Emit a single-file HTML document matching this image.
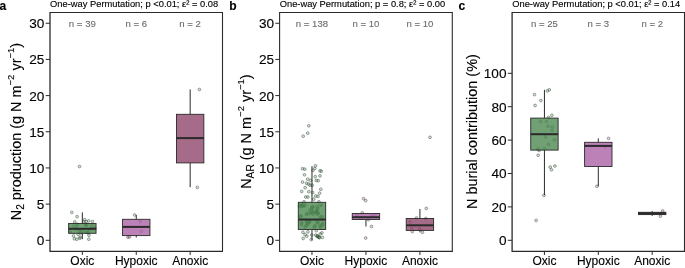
<!DOCTYPE html>
<html><head><meta charset="utf-8"><title>fig</title>
<style>
html,body{margin:0;padding:0;background:#fff;}
body{width:685px;height:268px;overflow:hidden;font-family:"Liberation Sans",sans-serif;}
svg{display:block;font-family:"Liberation Sans",sans-serif;}
text{filter:grayscale(1);stroke:#000;stroke-width:0.13px;}
text.n{stroke:#6a6a6a;stroke-width:0.1px;}
</style></head><body>
<svg width="685" height="268" viewBox="0 0 685 268">
<rect x="0" y="0" width="685" height="268" fill="#fff"/>
<text x="-0.4" y="10.4" font-size="12" font-weight="bold" fill="#000">a</text>
<text x="229.3" y="10.4" font-size="12" font-weight="bold" fill="#000">b</text>
<text x="458.4" y="10.4" font-size="12" font-weight="bold" fill="#000">c</text>
<text x="50.10" y="6.9" font-size="9.33" fill="#000">One-way Permutation; p &lt;0.01; ε² = 0.08</text>
<text x="82.34" y="26.7" class="n" font-size="9.6" fill="#6a6a6a" text-anchor="middle">n = 39</text>
<text x="136.25" y="26.7" class="n" font-size="9.6" fill="#6a6a6a" text-anchor="middle">n = 6</text>
<text x="190.16" y="26.7" class="n" font-size="9.6" fill="#6a6a6a" text-anchor="middle">n = 2</text>
<line x1="45.70" y1="240.30" x2="50.00" y2="240.30" stroke="#2a2a2a" stroke-width="1"/>
<text x="44.40" y="245.20" font-size="13.6" fill="#000" text-anchor="end">0</text>
<line x1="45.70" y1="204.12" x2="50.00" y2="204.12" stroke="#2a2a2a" stroke-width="1"/>
<text x="44.40" y="209.03" font-size="13.6" fill="#000" text-anchor="end">5</text>
<line x1="45.70" y1="167.95" x2="50.00" y2="167.95" stroke="#2a2a2a" stroke-width="1"/>
<text x="44.40" y="172.85" font-size="13.6" fill="#000" text-anchor="end">10</text>
<line x1="45.70" y1="131.78" x2="50.00" y2="131.78" stroke="#2a2a2a" stroke-width="1"/>
<text x="44.40" y="136.68" font-size="13.6" fill="#000" text-anchor="end">15</text>
<line x1="45.70" y1="95.60" x2="50.00" y2="95.60" stroke="#2a2a2a" stroke-width="1"/>
<text x="44.40" y="100.50" font-size="13.6" fill="#000" text-anchor="end">20</text>
<line x1="45.70" y1="59.43" x2="50.00" y2="59.43" stroke="#2a2a2a" stroke-width="1"/>
<text x="44.40" y="64.33" font-size="13.6" fill="#000" text-anchor="end">25</text>
<line x1="45.70" y1="23.25" x2="50.00" y2="23.25" stroke="#2a2a2a" stroke-width="1"/>
<text x="44.40" y="28.15" font-size="13.6" fill="#000" text-anchor="end">30</text>
<line x1="82.34" y1="251.35" x2="82.34" y2="254.95" stroke="#2a2a2a" stroke-width="1"/>
<text x="82.34" y="265.1" font-size="12" fill="#000" text-anchor="middle">Oxic</text>
<line x1="136.25" y1="251.35" x2="136.25" y2="254.95" stroke="#2a2a2a" stroke-width="1"/>
<text x="136.25" y="265.1" font-size="12" fill="#000" text-anchor="middle">Hypoxic</text>
<line x1="190.16" y1="251.35" x2="190.16" y2="254.95" stroke="#2a2a2a" stroke-width="1"/>
<text x="190.16" y="265.1" font-size="12" fill="#000" text-anchor="middle">Anoxic</text>
<text transform="translate(21.4,131.6) rotate(-90)" font-size="14.45" text-anchor="middle" fill="#000">N<tspan font-size="10.2" dy="2.9">2</tspan><tspan dy="-2.9"> production (g N m</tspan><tspan font-size="9.5" dy="-7">−2</tspan><tspan dy="7"> yr</tspan><tspan font-size="9.5" dy="-7">−1</tspan><tspan dy="7">)</tspan></text>
<circle cx="71.8" cy="212.4" r="1.4" fill="#2e8b3e" fill-opacity="0.25" stroke="#3a463a" stroke-opacity="0.6" stroke-width="0.75"/><circle cx="77.1" cy="216.6" r="1.4" fill="#2e8b3e" fill-opacity="0.25" stroke="#3a463a" stroke-opacity="0.6" stroke-width="0.75"/><circle cx="84.6" cy="219.6" r="1.4" fill="#2e8b3e" fill-opacity="0.25" stroke="#3a463a" stroke-opacity="0.6" stroke-width="0.75"/><circle cx="88.6" cy="220.9" r="1.4" fill="#2e8b3e" fill-opacity="0.25" stroke="#3a463a" stroke-opacity="0.6" stroke-width="0.75"/><circle cx="92.5" cy="221.6" r="1.4" fill="#2e8b3e" fill-opacity="0.25" stroke="#3a463a" stroke-opacity="0.6" stroke-width="0.75"/><circle cx="74.8" cy="222.0" r="1.4" fill="#2e8b3e" fill-opacity="0.25" stroke="#3a463a" stroke-opacity="0.6" stroke-width="0.75"/><circle cx="79.5" cy="166.5" r="1.4" fill="#2e8b3e" fill-opacity="0.25" stroke="#3a463a" stroke-opacity="0.6" stroke-width="0.75"/><circle cx="73.5" cy="235.9" r="1.4" fill="#2e8b3e" fill-opacity="0.25" stroke="#3a463a" stroke-opacity="0.6" stroke-width="0.75"/><circle cx="74.4" cy="238.8" r="1.4" fill="#2e8b3e" fill-opacity="0.25" stroke="#3a463a" stroke-opacity="0.6" stroke-width="0.75"/><circle cx="76.8" cy="239.2" r="1.4" fill="#2e8b3e" fill-opacity="0.25" stroke="#3a463a" stroke-opacity="0.6" stroke-width="0.75"/><circle cx="79.8" cy="238.3" r="1.4" fill="#2e8b3e" fill-opacity="0.25" stroke="#3a463a" stroke-opacity="0.6" stroke-width="0.75"/><circle cx="89.0" cy="235.3" r="1.4" fill="#2e8b3e" fill-opacity="0.25" stroke="#3a463a" stroke-opacity="0.6" stroke-width="0.75"/><circle cx="88.8" cy="239.2" r="1.4" fill="#2e8b3e" fill-opacity="0.25" stroke="#3a463a" stroke-opacity="0.6" stroke-width="0.75"/><circle cx="78.1" cy="234.3" r="1.4" fill="#2e8b3e" fill-opacity="0.25" stroke="#3a463a" stroke-opacity="0.6" stroke-width="0.75"/><circle cx="80.1" cy="237.1" r="1.4" fill="#2e8b3e" fill-opacity="0.25" stroke="#3a463a" stroke-opacity="0.6" stroke-width="0.75"/><circle cx="86.1" cy="221.6" r="1.4" fill="#2e8b3e" fill-opacity="0.25" stroke="#3a463a" stroke-opacity="0.6" stroke-width="0.75"/><circle cx="83.9" cy="221.9" r="1.4" fill="#2e8b3e" fill-opacity="0.25" stroke="#3a463a" stroke-opacity="0.6" stroke-width="0.75"/><circle cx="75.9" cy="229.2" r="1.4" fill="#2e8b3e" fill-opacity="0.25" stroke="#3a463a" stroke-opacity="0.6" stroke-width="0.75"/><circle cx="79.2" cy="229.7" r="1.4" fill="#2e8b3e" fill-opacity="0.25" stroke="#3a463a" stroke-opacity="0.6" stroke-width="0.75"/><circle cx="85.6" cy="224.6" r="1.4" fill="#2e8b3e" fill-opacity="0.25" stroke="#3a463a" stroke-opacity="0.6" stroke-width="0.75"/><circle cx="70.3" cy="232.0" r="1.4" fill="#2e8b3e" fill-opacity="0.25" stroke="#3a463a" stroke-opacity="0.6" stroke-width="0.75"/><circle cx="76.5" cy="226.2" r="1.4" fill="#2e8b3e" fill-opacity="0.25" stroke="#3a463a" stroke-opacity="0.6" stroke-width="0.75"/><circle cx="94.9" cy="228.5" r="1.4" fill="#2e8b3e" fill-opacity="0.25" stroke="#3a463a" stroke-opacity="0.6" stroke-width="0.75"/><circle cx="90.9" cy="228.5" r="1.4" fill="#2e8b3e" fill-opacity="0.25" stroke="#3a463a" stroke-opacity="0.6" stroke-width="0.75"/><circle cx="86.0" cy="225.4" r="1.4" fill="#2e8b3e" fill-opacity="0.25" stroke="#3a463a" stroke-opacity="0.6" stroke-width="0.75"/><circle cx="85.9" cy="232.2" r="1.4" fill="#2e8b3e" fill-opacity="0.25" stroke="#3a463a" stroke-opacity="0.6" stroke-width="0.75"/><circle cx="83.1" cy="231.0" r="1.4" fill="#2e8b3e" fill-opacity="0.25" stroke="#3a463a" stroke-opacity="0.6" stroke-width="0.75"/><circle cx="86.8" cy="224.6" r="1.4" fill="#2e8b3e" fill-opacity="0.25" stroke="#3a463a" stroke-opacity="0.6" stroke-width="0.75"/><circle cx="89.0" cy="229.6" r="1.4" fill="#2e8b3e" fill-opacity="0.25" stroke="#3a463a" stroke-opacity="0.6" stroke-width="0.75"/><circle cx="77.5" cy="224.3" r="1.4" fill="#2e8b3e" fill-opacity="0.25" stroke="#3a463a" stroke-opacity="0.6" stroke-width="0.75"/><circle cx="91.6" cy="228.5" r="1.4" fill="#2e8b3e" fill-opacity="0.25" stroke="#3a463a" stroke-opacity="0.6" stroke-width="0.75"/><circle cx="88.0" cy="232.3" r="1.4" fill="#2e8b3e" fill-opacity="0.25" stroke="#3a463a" stroke-opacity="0.6" stroke-width="0.75"/><circle cx="87.9" cy="232.8" r="1.4" fill="#2e8b3e" fill-opacity="0.25" stroke="#3a463a" stroke-opacity="0.6" stroke-width="0.75"/><circle cx="79.9" cy="231.6" r="1.4" fill="#2e8b3e" fill-opacity="0.25" stroke="#3a463a" stroke-opacity="0.6" stroke-width="0.75"/><circle cx="81.1" cy="232.9" r="1.4" fill="#2e8b3e" fill-opacity="0.25" stroke="#3a463a" stroke-opacity="0.6" stroke-width="0.75"/><circle cx="92.0" cy="224.9" r="1.4" fill="#2e8b3e" fill-opacity="0.25" stroke="#3a463a" stroke-opacity="0.6" stroke-width="0.75"/><circle cx="73.4" cy="226.1" r="1.4" fill="#2e8b3e" fill-opacity="0.25" stroke="#3a463a" stroke-opacity="0.6" stroke-width="0.75"/><circle cx="94.1" cy="228.1" r="1.4" fill="#2e8b3e" fill-opacity="0.25" stroke="#3a463a" stroke-opacity="0.6" stroke-width="0.75"/>
<line x1="82.34" y1="212.40" x2="82.34" y2="223.50" stroke="#2a2a2a" stroke-width="1"/><line x1="82.34" y1="233.30" x2="82.34" y2="239.20" stroke="#2a2a2a" stroke-width="1"/><rect x="68.64" y="223.50" width="27.40" height="9.80" fill="#4c8851" fill-opacity="0.8" stroke="#2a2a2a" stroke-width="0.9"/><line x1="68.64" y1="228.80" x2="96.04" y2="228.80" stroke="#2a2a2a" stroke-width="2.0"/>
<circle cx="134.6" cy="215.0" r="1.4" fill="#b040b0" fill-opacity="0.25" stroke="#444" stroke-opacity="0.6" stroke-width="0.75"/><circle cx="128.0" cy="237.2" r="1.4" fill="#b040b0" fill-opacity="0.25" stroke="#444" stroke-opacity="0.6" stroke-width="0.75"/><circle cx="129.4" cy="236.9" r="1.4" fill="#b040b0" fill-opacity="0.25" stroke="#444" stroke-opacity="0.6" stroke-width="0.75"/><circle cx="140.3" cy="221.5" r="1.4" fill="#b040b0" fill-opacity="0.25" stroke="#444" stroke-opacity="0.6" stroke-width="0.75"/><circle cx="141.3" cy="231.3" r="1.4" fill="#b040b0" fill-opacity="0.25" stroke="#444" stroke-opacity="0.6" stroke-width="0.75"/>
<line x1="136.25" y1="215.00" x2="136.25" y2="219.30" stroke="#2a2a2a" stroke-width="1"/><line x1="136.25" y1="235.60" x2="136.25" y2="237.50" stroke="#2a2a2a" stroke-width="1"/><rect x="122.55" y="219.30" width="27.40" height="16.30" fill="#ab63a6" fill-opacity="0.8" stroke="#2a2a2a" stroke-width="0.9"/><line x1="122.55" y1="226.90" x2="149.95" y2="226.90" stroke="#2a2a2a" stroke-width="2.0"/>
<circle cx="199.4" cy="89.5" r="1.4" fill="#a04070" fill-opacity="0.25" stroke="#444" stroke-opacity="0.6" stroke-width="0.75"/><circle cx="197.3" cy="187.4" r="1.4" fill="#a04070" fill-opacity="0.25" stroke="#444" stroke-opacity="0.6" stroke-width="0.75"/>
<line x1="190.16" y1="89.40" x2="190.16" y2="114.30" stroke="#2a2a2a" stroke-width="1"/><line x1="190.16" y1="162.90" x2="190.16" y2="187.20" stroke="#2a2a2a" stroke-width="1"/><rect x="176.46" y="114.30" width="27.40" height="48.60" fill="#8e466a" fill-opacity="0.8" stroke="#2a2a2a" stroke-width="0.9"/><line x1="176.46" y1="138.10" x2="203.86" y2="138.10" stroke="#2a2a2a" stroke-width="2.0"/>
<text x="279.70" y="6.9" font-size="9.33" fill="#000">One-way Permutation; p = 0.8; ε² = 0.00</text>
<text x="311.98" y="26.7" class="n" font-size="9.6" fill="#6a6a6a" text-anchor="middle">n = 138</text>
<text x="365.95" y="26.7" class="n" font-size="9.6" fill="#6a6a6a" text-anchor="middle">n = 10</text>
<text x="419.92" y="26.7" class="n" font-size="9.6" fill="#6a6a6a" text-anchor="middle">n = 10</text>
<line x1="275.30" y1="240.30" x2="279.60" y2="240.30" stroke="#2a2a2a" stroke-width="1"/>
<text x="274.00" y="245.20" font-size="13.6" fill="#000" text-anchor="end">0</text>
<line x1="275.30" y1="204.12" x2="279.60" y2="204.12" stroke="#2a2a2a" stroke-width="1"/>
<text x="274.00" y="209.03" font-size="13.6" fill="#000" text-anchor="end">5</text>
<line x1="275.30" y1="167.95" x2="279.60" y2="167.95" stroke="#2a2a2a" stroke-width="1"/>
<text x="274.00" y="172.85" font-size="13.6" fill="#000" text-anchor="end">10</text>
<line x1="275.30" y1="131.78" x2="279.60" y2="131.78" stroke="#2a2a2a" stroke-width="1"/>
<text x="274.00" y="136.68" font-size="13.6" fill="#000" text-anchor="end">15</text>
<line x1="275.30" y1="95.60" x2="279.60" y2="95.60" stroke="#2a2a2a" stroke-width="1"/>
<text x="274.00" y="100.50" font-size="13.6" fill="#000" text-anchor="end">20</text>
<line x1="275.30" y1="59.43" x2="279.60" y2="59.43" stroke="#2a2a2a" stroke-width="1"/>
<text x="274.00" y="64.33" font-size="13.6" fill="#000" text-anchor="end">25</text>
<line x1="275.30" y1="23.25" x2="279.60" y2="23.25" stroke="#2a2a2a" stroke-width="1"/>
<text x="274.00" y="28.15" font-size="13.6" fill="#000" text-anchor="end">30</text>
<line x1="311.98" y1="251.35" x2="311.98" y2="254.95" stroke="#2a2a2a" stroke-width="1"/>
<text x="311.98" y="265.1" font-size="12" fill="#000" text-anchor="middle">Oxic</text>
<line x1="365.95" y1="251.35" x2="365.95" y2="254.95" stroke="#2a2a2a" stroke-width="1"/>
<text x="365.95" y="265.1" font-size="12" fill="#000" text-anchor="middle">Hypoxic</text>
<line x1="419.92" y1="251.35" x2="419.92" y2="254.95" stroke="#2a2a2a" stroke-width="1"/>
<text x="419.92" y="265.1" font-size="12" fill="#000" text-anchor="middle">Anoxic</text>
<text transform="translate(251.4,131.6) rotate(-90)" font-size="14.45" text-anchor="middle" fill="#000">N<tspan font-size="10.2" dy="2.9">AR</tspan><tspan dy="-2.9"> (g N m</tspan><tspan font-size="9.5" dy="-7">−2</tspan><tspan dy="7"> yr</tspan><tspan font-size="9.5" dy="-7">−1</tspan><tspan dy="7">)</tspan></text>
<circle cx="308.8" cy="125.8" r="1.4" fill="#2e8b3e" fill-opacity="0.25" stroke="#3a463a" stroke-opacity="0.6" stroke-width="0.75"/><circle cx="307.7" cy="133.2" r="1.4" fill="#2e8b3e" fill-opacity="0.25" stroke="#3a463a" stroke-opacity="0.6" stroke-width="0.75"/><circle cx="303.2" cy="136.2" r="1.4" fill="#2e8b3e" fill-opacity="0.25" stroke="#3a463a" stroke-opacity="0.6" stroke-width="0.75"/><circle cx="302.5" cy="168.7" r="1.4" fill="#2e8b3e" fill-opacity="0.25" stroke="#3a463a" stroke-opacity="0.6" stroke-width="0.75"/><circle cx="304.8" cy="169.2" r="1.4" fill="#2e8b3e" fill-opacity="0.25" stroke="#3a463a" stroke-opacity="0.6" stroke-width="0.75"/><circle cx="315.5" cy="165.8" r="1.4" fill="#2e8b3e" fill-opacity="0.25" stroke="#3a463a" stroke-opacity="0.6" stroke-width="0.75"/><circle cx="314.8" cy="168.4" r="1.4" fill="#2e8b3e" fill-opacity="0.25" stroke="#3a463a" stroke-opacity="0.6" stroke-width="0.75"/><circle cx="312.9" cy="170.3" r="1.4" fill="#2e8b3e" fill-opacity="0.25" stroke="#3a463a" stroke-opacity="0.6" stroke-width="0.75"/><circle cx="320.0" cy="170.8" r="1.4" fill="#2e8b3e" fill-opacity="0.25" stroke="#3a463a" stroke-opacity="0.6" stroke-width="0.75"/><circle cx="321.3" cy="171.2" r="1.4" fill="#2e8b3e" fill-opacity="0.25" stroke="#3a463a" stroke-opacity="0.6" stroke-width="0.75"/><circle cx="304.5" cy="174.8" r="1.4" fill="#2e8b3e" fill-opacity="0.25" stroke="#3a463a" stroke-opacity="0.6" stroke-width="0.75"/><circle cx="315.2" cy="176.6" r="1.4" fill="#2e8b3e" fill-opacity="0.25" stroke="#3a463a" stroke-opacity="0.6" stroke-width="0.75"/><circle cx="320.0" cy="175.9" r="1.4" fill="#2e8b3e" fill-opacity="0.25" stroke="#3a463a" stroke-opacity="0.6" stroke-width="0.75"/><circle cx="307.7" cy="179.2" r="1.4" fill="#2e8b3e" fill-opacity="0.25" stroke="#3a463a" stroke-opacity="0.6" stroke-width="0.75"/><circle cx="310.7" cy="180.4" r="1.4" fill="#2e8b3e" fill-opacity="0.25" stroke="#3a463a" stroke-opacity="0.6" stroke-width="0.75"/><circle cx="316.3" cy="180.4" r="1.4" fill="#2e8b3e" fill-opacity="0.25" stroke="#3a463a" stroke-opacity="0.6" stroke-width="0.75"/><circle cx="318.2" cy="180.7" r="1.4" fill="#2e8b3e" fill-opacity="0.25" stroke="#3a463a" stroke-opacity="0.6" stroke-width="0.75"/><circle cx="302.5" cy="182.1" r="1.4" fill="#2e8b3e" fill-opacity="0.25" stroke="#3a463a" stroke-opacity="0.6" stroke-width="0.75"/><circle cx="306.6" cy="183.3" r="1.4" fill="#2e8b3e" fill-opacity="0.25" stroke="#3a463a" stroke-opacity="0.6" stroke-width="0.75"/><circle cx="308.5" cy="184.0" r="1.4" fill="#2e8b3e" fill-opacity="0.25" stroke="#3a463a" stroke-opacity="0.6" stroke-width="0.75"/><circle cx="310.1" cy="185.2" r="1.4" fill="#2e8b3e" fill-opacity="0.25" stroke="#3a463a" stroke-opacity="0.6" stroke-width="0.75"/><circle cx="312.1" cy="185.2" r="1.4" fill="#2e8b3e" fill-opacity="0.25" stroke="#3a463a" stroke-opacity="0.6" stroke-width="0.75"/><circle cx="305.1" cy="187.7" r="1.4" fill="#2e8b3e" fill-opacity="0.25" stroke="#3a463a" stroke-opacity="0.6" stroke-width="0.75"/><circle cx="320.8" cy="189.3" r="1.4" fill="#2e8b3e" fill-opacity="0.25" stroke="#3a463a" stroke-opacity="0.6" stroke-width="0.75"/><circle cx="301.7" cy="191.4" r="1.4" fill="#2e8b3e" fill-opacity="0.25" stroke="#3a463a" stroke-opacity="0.6" stroke-width="0.75"/><circle cx="308.8" cy="191.7" r="1.4" fill="#2e8b3e" fill-opacity="0.25" stroke="#3a463a" stroke-opacity="0.6" stroke-width="0.75"/><circle cx="312.6" cy="192.5" r="1.4" fill="#2e8b3e" fill-opacity="0.25" stroke="#3a463a" stroke-opacity="0.6" stroke-width="0.75"/><circle cx="319.6" cy="193.2" r="1.4" fill="#2e8b3e" fill-opacity="0.25" stroke="#3a463a" stroke-opacity="0.6" stroke-width="0.75"/><circle cx="305.7" cy="197.0" r="1.4" fill="#2e8b3e" fill-opacity="0.25" stroke="#3a463a" stroke-opacity="0.6" stroke-width="0.75"/><circle cx="307.9" cy="197.0" r="1.4" fill="#2e8b3e" fill-opacity="0.25" stroke="#3a463a" stroke-opacity="0.6" stroke-width="0.75"/><circle cx="315.7" cy="196.0" r="1.4" fill="#2e8b3e" fill-opacity="0.25" stroke="#3a463a" stroke-opacity="0.6" stroke-width="0.75"/><circle cx="318.0" cy="196.4" r="1.4" fill="#2e8b3e" fill-opacity="0.25" stroke="#3a463a" stroke-opacity="0.6" stroke-width="0.75"/><circle cx="313.7" cy="199.2" r="1.4" fill="#2e8b3e" fill-opacity="0.25" stroke="#3a463a" stroke-opacity="0.6" stroke-width="0.75"/><circle cx="304.0" cy="201.8" r="1.4" fill="#2e8b3e" fill-opacity="0.25" stroke="#3a463a" stroke-opacity="0.6" stroke-width="0.75"/><circle cx="318.9" cy="201.8" r="1.4" fill="#2e8b3e" fill-opacity="0.25" stroke="#3a463a" stroke-opacity="0.6" stroke-width="0.75"/><circle cx="302.9" cy="232.3" r="1.4" fill="#2e8b3e" fill-opacity="0.25" stroke="#3a463a" stroke-opacity="0.6" stroke-width="0.75"/><circle cx="305.1" cy="234.6" r="1.4" fill="#2e8b3e" fill-opacity="0.25" stroke="#3a463a" stroke-opacity="0.6" stroke-width="0.75"/><circle cx="306.8" cy="236.2" r="1.4" fill="#2e8b3e" fill-opacity="0.25" stroke="#3a463a" stroke-opacity="0.6" stroke-width="0.75"/><circle cx="303.2" cy="238.5" r="1.4" fill="#2e8b3e" fill-opacity="0.25" stroke="#3a463a" stroke-opacity="0.6" stroke-width="0.75"/><circle cx="311.2" cy="239.6" r="1.4" fill="#2e8b3e" fill-opacity="0.25" stroke="#3a463a" stroke-opacity="0.6" stroke-width="0.75"/><circle cx="311.8" cy="235.1" r="1.4" fill="#2e8b3e" fill-opacity="0.25" stroke="#3a463a" stroke-opacity="0.6" stroke-width="0.75"/><circle cx="315.7" cy="235.1" r="1.4" fill="#2e8b3e" fill-opacity="0.25" stroke="#3a463a" stroke-opacity="0.6" stroke-width="0.75"/><circle cx="317.4" cy="236.2" r="1.4" fill="#2e8b3e" fill-opacity="0.25" stroke="#3a463a" stroke-opacity="0.6" stroke-width="0.75"/><circle cx="317.6" cy="236.5" r="1.4" fill="#2e8b3e" fill-opacity="0.25" stroke="#3a463a" stroke-opacity="0.6" stroke-width="0.75"/><circle cx="317.2" cy="236.0" r="1.4" fill="#2e8b3e" fill-opacity="0.25" stroke="#3a463a" stroke-opacity="0.6" stroke-width="0.75"/><circle cx="319.1" cy="237.4" r="1.4" fill="#2e8b3e" fill-opacity="0.25" stroke="#3a463a" stroke-opacity="0.6" stroke-width="0.75"/><circle cx="318.9" cy="237.1" r="1.4" fill="#2e8b3e" fill-opacity="0.25" stroke="#3a463a" stroke-opacity="0.6" stroke-width="0.75"/><circle cx="319.3" cy="237.7" r="1.4" fill="#2e8b3e" fill-opacity="0.25" stroke="#3a463a" stroke-opacity="0.6" stroke-width="0.75"/><circle cx="322.4" cy="237.4" r="1.4" fill="#2e8b3e" fill-opacity="0.25" stroke="#3a463a" stroke-opacity="0.6" stroke-width="0.75"/><circle cx="321.9" cy="232.9" r="1.4" fill="#2e8b3e" fill-opacity="0.25" stroke="#3a463a" stroke-opacity="0.6" stroke-width="0.75"/><circle cx="320.2" cy="234.0" r="1.4" fill="#2e8b3e" fill-opacity="0.25" stroke="#3a463a" stroke-opacity="0.6" stroke-width="0.75"/><circle cx="307.9" cy="231.8" r="1.4" fill="#2e8b3e" fill-opacity="0.25" stroke="#3a463a" stroke-opacity="0.6" stroke-width="0.75"/><circle cx="316.3" cy="230.7" r="1.4" fill="#2e8b3e" fill-opacity="0.25" stroke="#3a463a" stroke-opacity="0.6" stroke-width="0.75"/><circle cx="301.8" cy="205.1" r="1.4" fill="#2e8b3e" fill-opacity="0.25" stroke="#3a463a" stroke-opacity="0.6" stroke-width="0.75"/><circle cx="301.4" cy="205.6" r="1.4" fill="#2e8b3e" fill-opacity="0.25" stroke="#3a463a" stroke-opacity="0.6" stroke-width="0.75"/><circle cx="301.6" cy="206.6" r="1.4" fill="#2e8b3e" fill-opacity="0.25" stroke="#3a463a" stroke-opacity="0.6" stroke-width="0.75"/><circle cx="299.5" cy="206.3" r="1.4" fill="#2e8b3e" fill-opacity="0.25" stroke="#3a463a" stroke-opacity="0.6" stroke-width="0.75"/><circle cx="300.3" cy="205.4" r="1.4" fill="#2e8b3e" fill-opacity="0.25" stroke="#3a463a" stroke-opacity="0.6" stroke-width="0.75"/><circle cx="302.9" cy="205.1" r="1.4" fill="#2e8b3e" fill-opacity="0.25" stroke="#3a463a" stroke-opacity="0.6" stroke-width="0.75"/><circle cx="303.1" cy="206.2" r="1.4" fill="#2e8b3e" fill-opacity="0.25" stroke="#3a463a" stroke-opacity="0.6" stroke-width="0.75"/><circle cx="304.9" cy="204.9" r="1.4" fill="#2e8b3e" fill-opacity="0.25" stroke="#3a463a" stroke-opacity="0.6" stroke-width="0.75"/><circle cx="304.4" cy="206.0" r="1.4" fill="#2e8b3e" fill-opacity="0.25" stroke="#3a463a" stroke-opacity="0.6" stroke-width="0.75"/><circle cx="312.3" cy="207.2" r="1.4" fill="#2e8b3e" fill-opacity="0.25" stroke="#3a463a" stroke-opacity="0.6" stroke-width="0.75"/><circle cx="313.0" cy="206.8" r="1.4" fill="#2e8b3e" fill-opacity="0.25" stroke="#3a463a" stroke-opacity="0.6" stroke-width="0.75"/><circle cx="312.3" cy="208.1" r="1.4" fill="#2e8b3e" fill-opacity="0.25" stroke="#3a463a" stroke-opacity="0.6" stroke-width="0.75"/><circle cx="311.8" cy="207.3" r="1.4" fill="#2e8b3e" fill-opacity="0.25" stroke="#3a463a" stroke-opacity="0.6" stroke-width="0.75"/><circle cx="311.5" cy="210.4" r="1.4" fill="#2e8b3e" fill-opacity="0.25" stroke="#3a463a" stroke-opacity="0.6" stroke-width="0.75"/><circle cx="309.7" cy="209.8" r="1.4" fill="#2e8b3e" fill-opacity="0.25" stroke="#3a463a" stroke-opacity="0.6" stroke-width="0.75"/><circle cx="317.0" cy="210.4" r="1.4" fill="#2e8b3e" fill-opacity="0.25" stroke="#3a463a" stroke-opacity="0.6" stroke-width="0.75"/><circle cx="317.6" cy="208.7" r="1.4" fill="#2e8b3e" fill-opacity="0.25" stroke="#3a463a" stroke-opacity="0.6" stroke-width="0.75"/><circle cx="317.2" cy="208.7" r="1.4" fill="#2e8b3e" fill-opacity="0.25" stroke="#3a463a" stroke-opacity="0.6" stroke-width="0.75"/><circle cx="319.4" cy="205.9" r="1.4" fill="#2e8b3e" fill-opacity="0.25" stroke="#3a463a" stroke-opacity="0.6" stroke-width="0.75"/><circle cx="321.5" cy="205.0" r="1.4" fill="#2e8b3e" fill-opacity="0.25" stroke="#3a463a" stroke-opacity="0.6" stroke-width="0.75"/><circle cx="316.4" cy="206.6" r="1.4" fill="#2e8b3e" fill-opacity="0.25" stroke="#3a463a" stroke-opacity="0.6" stroke-width="0.75"/><circle cx="316.7" cy="212.0" r="1.4" fill="#2e8b3e" fill-opacity="0.25" stroke="#3a463a" stroke-opacity="0.6" stroke-width="0.75"/><circle cx="316.6" cy="211.6" r="1.4" fill="#2e8b3e" fill-opacity="0.25" stroke="#3a463a" stroke-opacity="0.6" stroke-width="0.75"/><circle cx="317.1" cy="212.6" r="1.4" fill="#2e8b3e" fill-opacity="0.25" stroke="#3a463a" stroke-opacity="0.6" stroke-width="0.75"/><circle cx="313.6" cy="212.0" r="1.4" fill="#2e8b3e" fill-opacity="0.25" stroke="#3a463a" stroke-opacity="0.6" stroke-width="0.75"/><circle cx="315.7" cy="212.8" r="1.4" fill="#2e8b3e" fill-opacity="0.25" stroke="#3a463a" stroke-opacity="0.6" stroke-width="0.75"/><circle cx="313.1" cy="214.4" r="1.4" fill="#2e8b3e" fill-opacity="0.25" stroke="#3a463a" stroke-opacity="0.6" stroke-width="0.75"/><circle cx="312.5" cy="212.4" r="1.4" fill="#2e8b3e" fill-opacity="0.25" stroke="#3a463a" stroke-opacity="0.6" stroke-width="0.75"/><circle cx="310.7" cy="213.2" r="1.4" fill="#2e8b3e" fill-opacity="0.25" stroke="#3a463a" stroke-opacity="0.6" stroke-width="0.75"/><circle cx="311.1" cy="211.9" r="1.4" fill="#2e8b3e" fill-opacity="0.25" stroke="#3a463a" stroke-opacity="0.6" stroke-width="0.75"/><circle cx="306.7" cy="213.5" r="1.4" fill="#2e8b3e" fill-opacity="0.25" stroke="#3a463a" stroke-opacity="0.6" stroke-width="0.75"/><circle cx="308.9" cy="213.6" r="1.4" fill="#2e8b3e" fill-opacity="0.25" stroke="#3a463a" stroke-opacity="0.6" stroke-width="0.75"/><circle cx="306.6" cy="214.6" r="1.4" fill="#2e8b3e" fill-opacity="0.25" stroke="#3a463a" stroke-opacity="0.6" stroke-width="0.75"/><circle cx="317.5" cy="214.2" r="1.4" fill="#2e8b3e" fill-opacity="0.25" stroke="#3a463a" stroke-opacity="0.6" stroke-width="0.75"/><circle cx="318.5" cy="213.2" r="1.4" fill="#2e8b3e" fill-opacity="0.25" stroke="#3a463a" stroke-opacity="0.6" stroke-width="0.75"/><circle cx="317.3" cy="213.4" r="1.4" fill="#2e8b3e" fill-opacity="0.25" stroke="#3a463a" stroke-opacity="0.6" stroke-width="0.75"/><circle cx="320.3" cy="217.4" r="1.4" fill="#2e8b3e" fill-opacity="0.25" stroke="#3a463a" stroke-opacity="0.6" stroke-width="0.75"/><circle cx="322.5" cy="217.0" r="1.4" fill="#2e8b3e" fill-opacity="0.25" stroke="#3a463a" stroke-opacity="0.6" stroke-width="0.75"/><circle cx="321.1" cy="216.6" r="1.4" fill="#2e8b3e" fill-opacity="0.25" stroke="#3a463a" stroke-opacity="0.6" stroke-width="0.75"/><circle cx="300.5" cy="216.6" r="1.4" fill="#2e8b3e" fill-opacity="0.25" stroke="#3a463a" stroke-opacity="0.6" stroke-width="0.75"/><circle cx="300.8" cy="216.5" r="1.4" fill="#2e8b3e" fill-opacity="0.25" stroke="#3a463a" stroke-opacity="0.6" stroke-width="0.75"/><circle cx="300.8" cy="215.9" r="1.4" fill="#2e8b3e" fill-opacity="0.25" stroke="#3a463a" stroke-opacity="0.6" stroke-width="0.75"/><circle cx="307.1" cy="221.8" r="1.4" fill="#2e8b3e" fill-opacity="0.25" stroke="#3a463a" stroke-opacity="0.6" stroke-width="0.75"/><circle cx="305.8" cy="219.7" r="1.4" fill="#2e8b3e" fill-opacity="0.25" stroke="#3a463a" stroke-opacity="0.6" stroke-width="0.75"/><circle cx="306.8" cy="222.8" r="1.4" fill="#2e8b3e" fill-opacity="0.25" stroke="#3a463a" stroke-opacity="0.6" stroke-width="0.75"/><circle cx="309.4" cy="220.9" r="1.4" fill="#2e8b3e" fill-opacity="0.25" stroke="#3a463a" stroke-opacity="0.6" stroke-width="0.75"/><circle cx="309.6" cy="221.9" r="1.4" fill="#2e8b3e" fill-opacity="0.25" stroke="#3a463a" stroke-opacity="0.6" stroke-width="0.75"/><circle cx="309.3" cy="222.2" r="1.4" fill="#2e8b3e" fill-opacity="0.25" stroke="#3a463a" stroke-opacity="0.6" stroke-width="0.75"/><circle cx="317.7" cy="223.2" r="1.4" fill="#2e8b3e" fill-opacity="0.25" stroke="#3a463a" stroke-opacity="0.6" stroke-width="0.75"/><circle cx="318.0" cy="222.2" r="1.4" fill="#2e8b3e" fill-opacity="0.25" stroke="#3a463a" stroke-opacity="0.6" stroke-width="0.75"/><circle cx="316.7" cy="221.8" r="1.4" fill="#2e8b3e" fill-opacity="0.25" stroke="#3a463a" stroke-opacity="0.6" stroke-width="0.75"/><circle cx="320.0" cy="226.9" r="1.4" fill="#2e8b3e" fill-opacity="0.25" stroke="#3a463a" stroke-opacity="0.6" stroke-width="0.75"/><circle cx="320.4" cy="225.7" r="1.4" fill="#2e8b3e" fill-opacity="0.25" stroke="#3a463a" stroke-opacity="0.6" stroke-width="0.75"/><circle cx="320.6" cy="227.2" r="1.4" fill="#2e8b3e" fill-opacity="0.25" stroke="#3a463a" stroke-opacity="0.6" stroke-width="0.75"/><circle cx="314.5" cy="226.4" r="1.4" fill="#2e8b3e" fill-opacity="0.25" stroke="#3a463a" stroke-opacity="0.6" stroke-width="0.75"/><circle cx="314.2" cy="227.5" r="1.4" fill="#2e8b3e" fill-opacity="0.25" stroke="#3a463a" stroke-opacity="0.6" stroke-width="0.75"/><circle cx="315.1" cy="226.0" r="1.4" fill="#2e8b3e" fill-opacity="0.25" stroke="#3a463a" stroke-opacity="0.6" stroke-width="0.75"/><circle cx="306.0" cy="225.9" r="1.4" fill="#2e8b3e" fill-opacity="0.25" stroke="#3a463a" stroke-opacity="0.6" stroke-width="0.75"/><circle cx="305.0" cy="227.4" r="1.4" fill="#2e8b3e" fill-opacity="0.25" stroke="#3a463a" stroke-opacity="0.6" stroke-width="0.75"/><circle cx="306.4" cy="225.6" r="1.4" fill="#2e8b3e" fill-opacity="0.25" stroke="#3a463a" stroke-opacity="0.6" stroke-width="0.75"/><circle cx="308.0" cy="224.5" r="1.4" fill="#2e8b3e" fill-opacity="0.25" stroke="#3a463a" stroke-opacity="0.6" stroke-width="0.75"/><circle cx="307.3" cy="223.9" r="1.4" fill="#2e8b3e" fill-opacity="0.25" stroke="#3a463a" stroke-opacity="0.6" stroke-width="0.75"/><circle cx="308.5" cy="222.4" r="1.4" fill="#2e8b3e" fill-opacity="0.25" stroke="#3a463a" stroke-opacity="0.6" stroke-width="0.75"/><circle cx="301.5" cy="224.7" r="1.4" fill="#2e8b3e" fill-opacity="0.25" stroke="#3a463a" stroke-opacity="0.6" stroke-width="0.75"/><circle cx="301.7" cy="222.8" r="1.4" fill="#2e8b3e" fill-opacity="0.25" stroke="#3a463a" stroke-opacity="0.6" stroke-width="0.75"/><circle cx="301.5" cy="223.2" r="1.4" fill="#2e8b3e" fill-opacity="0.25" stroke="#3a463a" stroke-opacity="0.6" stroke-width="0.75"/><circle cx="322.9" cy="224.5" r="1.4" fill="#2e8b3e" fill-opacity="0.25" stroke="#3a463a" stroke-opacity="0.6" stroke-width="0.75"/><circle cx="322.6" cy="223.3" r="1.4" fill="#2e8b3e" fill-opacity="0.25" stroke="#3a463a" stroke-opacity="0.6" stroke-width="0.75"/><circle cx="321.9" cy="224.8" r="1.4" fill="#2e8b3e" fill-opacity="0.25" stroke="#3a463a" stroke-opacity="0.6" stroke-width="0.75"/>
<line x1="311.98" y1="166.20" x2="311.98" y2="202.30" stroke="#2a2a2a" stroke-width="1"/><line x1="311.98" y1="229.50" x2="311.98" y2="240.20" stroke="#2a2a2a" stroke-width="1"/><rect x="298.28" y="202.30" width="27.40" height="27.20" fill="#4c8851" fill-opacity="0.8" stroke="#2a2a2a" stroke-width="0.9"/><line x1="298.28" y1="219.55" x2="325.68" y2="219.55" stroke="#2a2a2a" stroke-width="2.0"/>
<circle cx="363.5" cy="198.7" r="1.4" fill="#b040b0" fill-opacity="0.25" stroke="#444" stroke-opacity="0.6" stroke-width="0.75"/><circle cx="365.7" cy="200.6" r="1.4" fill="#b040b0" fill-opacity="0.25" stroke="#444" stroke-opacity="0.6" stroke-width="0.75"/><circle cx="362.3" cy="212.9" r="1.4" fill="#b040b0" fill-opacity="0.25" stroke="#444" stroke-opacity="0.6" stroke-width="0.75"/><circle cx="371.5" cy="226.5" r="1.4" fill="#b040b0" fill-opacity="0.25" stroke="#444" stroke-opacity="0.6" stroke-width="0.75"/><circle cx="365.7" cy="238.0" r="1.4" fill="#b040b0" fill-opacity="0.25" stroke="#444" stroke-opacity="0.6" stroke-width="0.75"/><circle cx="368.5" cy="219.7" r="1.4" fill="#b040b0" fill-opacity="0.25" stroke="#444" stroke-opacity="0.6" stroke-width="0.75"/><circle cx="357.0" cy="215.5" r="1.4" fill="#b040b0" fill-opacity="0.25" stroke="#444" stroke-opacity="0.6" stroke-width="0.75"/><circle cx="372.0" cy="216.2" r="1.4" fill="#b040b0" fill-opacity="0.25" stroke="#444" stroke-opacity="0.6" stroke-width="0.75"/><circle cx="361.0" cy="218.3" r="1.4" fill="#b040b0" fill-opacity="0.25" stroke="#444" stroke-opacity="0.6" stroke-width="0.75"/><circle cx="375.0" cy="214.8" r="1.4" fill="#b040b0" fill-opacity="0.25" stroke="#444" stroke-opacity="0.6" stroke-width="0.75"/>
<line x1="365.95" y1="213.00" x2="365.95" y2="213.45" stroke="#2a2a2a" stroke-width="1"/><line x1="365.95" y1="219.50" x2="365.95" y2="226.50" stroke="#2a2a2a" stroke-width="1"/><rect x="352.25" y="213.45" width="27.40" height="6.05" fill="#ab63a6" fill-opacity="0.8" stroke="#2a2a2a" stroke-width="0.9"/><line x1="352.25" y1="217.20" x2="379.65" y2="217.20" stroke="#2a2a2a" stroke-width="2.0"/>
<circle cx="430.0" cy="137.3" r="1.4" fill="#a04070" fill-opacity="0.25" stroke="#444" stroke-opacity="0.6" stroke-width="0.75"/><circle cx="426.3" cy="208.4" r="1.4" fill="#a04070" fill-opacity="0.25" stroke="#444" stroke-opacity="0.6" stroke-width="0.75"/><circle cx="416.5" cy="218.0" r="1.4" fill="#a04070" fill-opacity="0.25" stroke="#444" stroke-opacity="0.6" stroke-width="0.75"/><circle cx="425.8" cy="218.5" r="1.4" fill="#a04070" fill-opacity="0.25" stroke="#444" stroke-opacity="0.6" stroke-width="0.75"/><circle cx="410.1" cy="221.8" r="1.4" fill="#a04070" fill-opacity="0.25" stroke="#444" stroke-opacity="0.6" stroke-width="0.75"/><circle cx="412.3" cy="231.6" r="1.4" fill="#a04070" fill-opacity="0.25" stroke="#444" stroke-opacity="0.6" stroke-width="0.75"/><circle cx="422.4" cy="232.3" r="1.4" fill="#a04070" fill-opacity="0.25" stroke="#444" stroke-opacity="0.6" stroke-width="0.75"/><circle cx="411.8" cy="228.2" r="1.4" fill="#a04070" fill-opacity="0.25" stroke="#444" stroke-opacity="0.6" stroke-width="0.75"/><circle cx="419.8" cy="229.0" r="1.4" fill="#a04070" fill-opacity="0.25" stroke="#444" stroke-opacity="0.6" stroke-width="0.75"/>
<line x1="419.92" y1="209.00" x2="419.92" y2="218.45" stroke="#2a2a2a" stroke-width="1"/><line x1="419.92" y1="230.40" x2="419.92" y2="232.30" stroke="#2a2a2a" stroke-width="1"/><rect x="406.22" y="218.45" width="27.40" height="11.95" fill="#8e466a" fill-opacity="0.8" stroke="#2a2a2a" stroke-width="0.9"/><line x1="406.22" y1="225.30" x2="433.62" y2="225.30" stroke="#2a2a2a" stroke-width="2.0"/>
<text x="512.20" y="6.9" font-size="9.33" fill="#000">One-way Permutation; p &lt;0.01; ε² = 0.14</text>
<text x="544.43" y="26.7" class="n" font-size="9.6" fill="#6a6a6a" text-anchor="middle">n = 25</text>
<text x="598.30" y="26.7" class="n" font-size="9.6" fill="#6a6a6a" text-anchor="middle">n = 3</text>
<text x="652.18" y="26.7" class="n" font-size="9.6" fill="#6a6a6a" text-anchor="middle">n = 2</text>
<line x1="507.80" y1="240.30" x2="512.10" y2="240.30" stroke="#2a2a2a" stroke-width="1"/>
<text x="506.50" y="245.20" font-size="13.6" fill="#000" text-anchor="end">0</text>
<line x1="507.80" y1="206.90" x2="512.10" y2="206.90" stroke="#2a2a2a" stroke-width="1"/>
<text x="506.50" y="211.80" font-size="13.6" fill="#000" text-anchor="end">20</text>
<line x1="507.80" y1="173.50" x2="512.10" y2="173.50" stroke="#2a2a2a" stroke-width="1"/>
<text x="506.50" y="178.40" font-size="13.6" fill="#000" text-anchor="end">40</text>
<line x1="507.80" y1="140.10" x2="512.10" y2="140.10" stroke="#2a2a2a" stroke-width="1"/>
<text x="506.50" y="145.00" font-size="13.6" fill="#000" text-anchor="end">60</text>
<line x1="507.80" y1="106.70" x2="512.10" y2="106.70" stroke="#2a2a2a" stroke-width="1"/>
<text x="506.50" y="111.60" font-size="13.6" fill="#000" text-anchor="end">80</text>
<line x1="507.80" y1="73.30" x2="512.10" y2="73.30" stroke="#2a2a2a" stroke-width="1"/>
<text x="506.50" y="78.20" font-size="13.6" fill="#000" text-anchor="end">100</text>
<line x1="544.43" y1="251.35" x2="544.43" y2="254.95" stroke="#2a2a2a" stroke-width="1"/>
<text x="544.43" y="265.1" font-size="12" fill="#000" text-anchor="middle">Oxic</text>
<line x1="598.30" y1="251.35" x2="598.30" y2="254.95" stroke="#2a2a2a" stroke-width="1"/>
<text x="598.30" y="265.1" font-size="12" fill="#000" text-anchor="middle">Hypoxic</text>
<line x1="652.18" y1="251.35" x2="652.18" y2="254.95" stroke="#2a2a2a" stroke-width="1"/>
<text x="652.18" y="265.1" font-size="12" fill="#000" text-anchor="middle">Anoxic</text>
<text transform="translate(476.9,131.6) rotate(-90)" font-size="14.45" text-anchor="middle" fill="#000">N burial contribution (%)</text>
<circle cx="534.5" cy="94.6" r="1.4" fill="#2e8b3e" fill-opacity="0.25" stroke="#3a463a" stroke-opacity="0.6" stroke-width="0.75"/><circle cx="547.4" cy="90.9" r="1.4" fill="#2e8b3e" fill-opacity="0.25" stroke="#3a463a" stroke-opacity="0.6" stroke-width="0.75"/><circle cx="549.3" cy="89.8" r="1.4" fill="#2e8b3e" fill-opacity="0.25" stroke="#3a463a" stroke-opacity="0.6" stroke-width="0.75"/><circle cx="540.9" cy="100.5" r="1.4" fill="#2e8b3e" fill-opacity="0.25" stroke="#3a463a" stroke-opacity="0.6" stroke-width="0.75"/><circle cx="535.1" cy="105.5" r="1.4" fill="#2e8b3e" fill-opacity="0.25" stroke="#3a463a" stroke-opacity="0.6" stroke-width="0.75"/><circle cx="551.9" cy="115.3" r="1.4" fill="#2e8b3e" fill-opacity="0.25" stroke="#3a463a" stroke-opacity="0.6" stroke-width="0.75"/><circle cx="548.5" cy="117.5" r="1.4" fill="#2e8b3e" fill-opacity="0.25" stroke="#3a463a" stroke-opacity="0.6" stroke-width="0.75"/><circle cx="540.7" cy="121.6" r="1.4" fill="#2e8b3e" fill-opacity="0.25" stroke="#3a463a" stroke-opacity="0.6" stroke-width="0.75"/><circle cx="546.5" cy="121.6" r="1.4" fill="#2e8b3e" fill-opacity="0.25" stroke="#3a463a" stroke-opacity="0.6" stroke-width="0.75"/><circle cx="548.0" cy="126.2" r="1.4" fill="#2e8b3e" fill-opacity="0.25" stroke="#3a463a" stroke-opacity="0.6" stroke-width="0.75"/><circle cx="552.4" cy="127.0" r="1.4" fill="#2e8b3e" fill-opacity="0.25" stroke="#3a463a" stroke-opacity="0.6" stroke-width="0.75"/><circle cx="551.9" cy="130.4" r="1.4" fill="#2e8b3e" fill-opacity="0.25" stroke="#3a463a" stroke-opacity="0.6" stroke-width="0.75"/><circle cx="545.5" cy="136.9" r="1.4" fill="#2e8b3e" fill-opacity="0.25" stroke="#3a463a" stroke-opacity="0.6" stroke-width="0.75"/><circle cx="554.5" cy="139.8" r="1.4" fill="#2e8b3e" fill-opacity="0.25" stroke="#3a463a" stroke-opacity="0.6" stroke-width="0.75"/><circle cx="548.5" cy="144.5" r="1.4" fill="#2e8b3e" fill-opacity="0.25" stroke="#3a463a" stroke-opacity="0.6" stroke-width="0.75"/><circle cx="544.4" cy="148.5" r="1.4" fill="#2e8b3e" fill-opacity="0.25" stroke="#3a463a" stroke-opacity="0.6" stroke-width="0.75"/><circle cx="537.9" cy="149.2" r="1.4" fill="#2e8b3e" fill-opacity="0.25" stroke="#3a463a" stroke-opacity="0.6" stroke-width="0.75"/><circle cx="539.2" cy="150.4" r="1.4" fill="#2e8b3e" fill-opacity="0.25" stroke="#3a463a" stroke-opacity="0.6" stroke-width="0.75"/><circle cx="538.2" cy="155.3" r="1.4" fill="#2e8b3e" fill-opacity="0.25" stroke="#3a463a" stroke-opacity="0.6" stroke-width="0.75"/><circle cx="554.9" cy="166.0" r="1.4" fill="#2e8b3e" fill-opacity="0.25" stroke="#3a463a" stroke-opacity="0.6" stroke-width="0.75"/><circle cx="550.2" cy="167.1" r="1.4" fill="#2e8b3e" fill-opacity="0.25" stroke="#3a463a" stroke-opacity="0.6" stroke-width="0.75"/><circle cx="551.5" cy="169.8" r="1.4" fill="#2e8b3e" fill-opacity="0.25" stroke="#3a463a" stroke-opacity="0.6" stroke-width="0.75"/><circle cx="543.9" cy="195.3" r="1.4" fill="#2e8b3e" fill-opacity="0.25" stroke="#3a463a" stroke-opacity="0.6" stroke-width="0.75"/><circle cx="536.1" cy="220.4" r="1.4" fill="#2e8b3e" fill-opacity="0.25" stroke="#3a463a" stroke-opacity="0.6" stroke-width="0.75"/>
<line x1="544.43" y1="89.80" x2="544.43" y2="118.10" stroke="#2a2a2a" stroke-width="1"/><line x1="544.43" y1="150.10" x2="544.43" y2="195.10" stroke="#2a2a2a" stroke-width="1"/><rect x="530.73" y="118.10" width="27.40" height="32.00" fill="#4c8851" fill-opacity="0.8" stroke="#2a2a2a" stroke-width="0.9"/><line x1="530.73" y1="134.20" x2="558.12" y2="134.20" stroke="#2a2a2a" stroke-width="2.0"/>
<circle cx="608.6" cy="138.4" r="1.4" fill="#b040b0" fill-opacity="0.25" stroke="#444" stroke-opacity="0.6" stroke-width="0.75"/><circle cx="605.2" cy="146.5" r="1.4" fill="#b040b0" fill-opacity="0.25" stroke="#444" stroke-opacity="0.6" stroke-width="0.75"/><circle cx="596.9" cy="186.3" r="1.4" fill="#b040b0" fill-opacity="0.25" stroke="#444" stroke-opacity="0.6" stroke-width="0.75"/>
<line x1="598.30" y1="138.40" x2="598.30" y2="142.30" stroke="#2a2a2a" stroke-width="1"/><line x1="598.30" y1="166.50" x2="598.30" y2="186.30" stroke="#2a2a2a" stroke-width="1"/><rect x="584.60" y="142.30" width="27.40" height="24.20" fill="#ab63a6" fill-opacity="0.8" stroke="#2a2a2a" stroke-width="0.9"/><line x1="584.60" y1="145.90" x2="612.00" y2="145.90" stroke="#2a2a2a" stroke-width="2.0"/>
<circle cx="662.7" cy="211.0" r="1.4" fill="#a04070" fill-opacity="0.25" stroke="#444" stroke-opacity="0.6" stroke-width="0.75"/><circle cx="660.4" cy="216.2" r="1.4" fill="#a04070" fill-opacity="0.25" stroke="#444" stroke-opacity="0.6" stroke-width="0.75"/>
<line x1="652.18" y1="211.00" x2="652.18" y2="212.30" stroke="#2a2a2a" stroke-width="1"/><line x1="652.18" y1="214.60" x2="652.18" y2="215.90" stroke="#2a2a2a" stroke-width="1"/><rect x="638.48" y="212.30" width="27.40" height="2.30" fill="#8e466a" fill-opacity="0.8" stroke="#2a2a2a" stroke-width="0.9"/><line x1="638.48" y1="213.40" x2="665.88" y2="213.40" stroke="#2a2a2a" stroke-width="2.0"/>
<line x1="50.00" y1="12.0" x2="50.00" y2="251.9" stroke="#2a2a2a" stroke-width="1.3"/>
<line x1="222.50" y1="12.0" x2="222.50" y2="251.9" stroke="#2a2a2a" stroke-width="1.1"/>
<line x1="50.00" y1="12.5" x2="222.50" y2="12.5" stroke="#2a2a2a" stroke-width="1.05"/>
<line x1="50.00" y1="251.35" x2="222.50" y2="251.35" stroke="#2a2a2a" stroke-width="1.15"/>
<line x1="279.60" y1="12.0" x2="279.60" y2="251.9" stroke="#2a2a2a" stroke-width="1.1"/>
<line x1="452.30" y1="12.0" x2="452.30" y2="251.9" stroke="#2a2a2a" stroke-width="1.1"/>
<line x1="279.60" y1="12.5" x2="452.30" y2="12.5" stroke="#2a2a2a" stroke-width="1.05"/>
<line x1="279.60" y1="251.35" x2="452.30" y2="251.35" stroke="#2a2a2a" stroke-width="1.15"/>
<line x1="512.10" y1="12.0" x2="512.10" y2="251.9" stroke="#2a2a2a" stroke-width="1.3"/>
<line x1="684.50" y1="12.0" x2="684.50" y2="251.9" stroke="#2a2a2a" stroke-width="1.1"/>
<line x1="512.10" y1="12.5" x2="684.50" y2="12.5" stroke="#2a2a2a" stroke-width="1.05"/>
<line x1="512.10" y1="251.35" x2="684.50" y2="251.35" stroke="#2a2a2a" stroke-width="1.15"/>
</svg></body></html>
